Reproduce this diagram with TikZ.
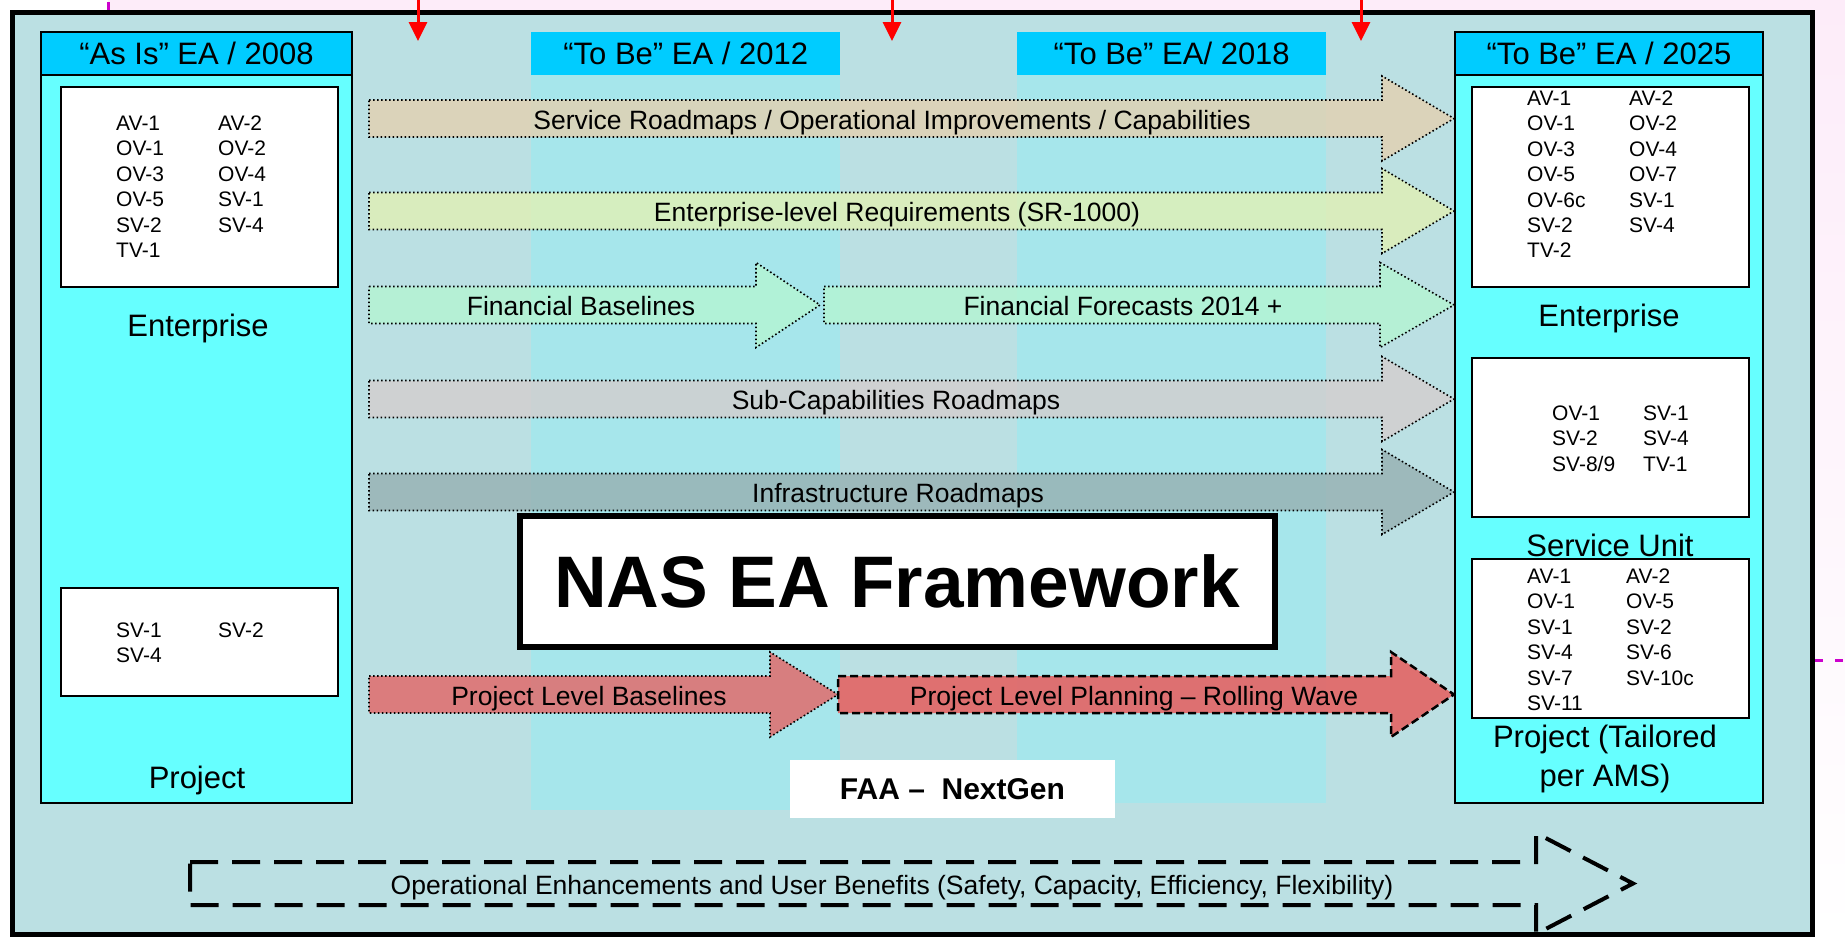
\documentclass[tikz,border=0pt]{standalone}
\usepackage{fontspec}
\setmainfont{Liberation Sans}
\usetikzlibrary{positioning, arrows.meta}

\definecolor{framebg}{RGB}{187,224,227}
\definecolor{eracol}{RGB}{166,230,235}
\definecolor{erahead}{RGB}{0,204,255}
\definecolor{panelfill}{RGB}{102,255,255}
\definecolor{pagepink}{RGB}{253,236,249}
\definecolor{mgnt}{RGB}{204,0,204}
\definecolor{svctan}{RGB}{228,208,176}
\definecolor{reqgreen}{RGB}{225,240,180}
\definecolor{finmint}{RGB}{180,245,210}
\definecolor{subgrey}{RGB}{212,206,206}
\definecolor{infragrey}{RGB}{150,176,177}
\definecolor{projred}{RGB}{228,100,100}

\newcommand{\roadarrow}[5][]{%
  \draw[#1] (#2,{#5-18.5}) -- (#3,{#5-18.5}) -- (#3,{#5-42.5}) -- (#4,#5)
    -- (#3,{#5+42.5}) -- (#3,{#5+18.5}) -- (#2,{#5+18.5}) -- cycle;}

\begin{document}
\begin{tikzpicture}[x=1pt, y=-1pt,
frame/.style={draw=black, line width=5pt},
panel-head/.style={rectangle, fill=erahead, draw=black, line width=2.5pt,
    font=\fontsize{31}{37}\selectfont, minimum width=311, minimum height=43,
    inner sep=0pt, outer sep=0pt, anchor=north west},
panel-body/.style={rectangle, fill=panelfill, draw=black, line width=2.5pt,
    minimum width=311, inner sep=0pt, outer sep=0pt},
era-head/.style={rectangle, fill=erahead, font=\fontsize{31}{37}\selectfont,
    minimum width=309, minimum height=43, inner sep=0pt, anchor=north west},
era-column/.style={rectangle, fill=eracol, minimum width=309, inner sep=0pt,
    anchor=north west},
view-box/.style={rectangle, fill=white, draw=black, line width=2pt,
    minimum width=277, inner sep=0pt, anchor=north west},
view-list/.style={font=\fontsize{21}{25.4}\selectfont, inner sep=0pt, anchor=base west},
level/.style={font=\fontsize{31}{39}\selectfont, inner sep=0pt, anchor=base, align=center},
road/.style={draw=black, line width=1.6pt, dash pattern=on 1.6pt off 2.4pt, fill opacity=0.8},
road-plan/.style={draw=black, line width=2.5pt, dash pattern=on 8pt off 4pt, fill opacity=0.9},
road-label/.style={font=\fontsize{26.5}{30}\selectfont, inner sep=0pt, anchor=base},
benefit/.style={draw=black, line width=4pt, dash pattern=on 28pt off 14pt},
title-box/.style={rectangle, fill=white, draw=black, line width=6pt,
    font=\fontsize{73}{80}\selectfont\bfseries, minimum width=755, minimum height=131, inner sep=0pt},
tag-box/.style={rectangle, fill=white, font=\fontsize{30}{36}\selectfont\bfseries,
    minimum width=325, minimum height=58, inner sep=0pt},
cut-mark/.style={red, line width=3pt, -{Triangle[length=19pt, width=18pt]}}
]
\useasboundingbox (0,0) rectangle (1845,937);
\fill[white] (0,0) rectangle (1845,937);
\fill[pagepink] (108,0) rectangle (1845,10);
\shade[top color=pagepink, bottom color=white] (1814,0) rectangle (1845,937);
\draw[mgnt, line width=3pt] (108,2) -- (108,10);
\draw[mgnt, line width=3pt, dash pattern=on 8pt off 12pt] (1815,660) -- (1845,660);
\fill[framebg] (12,12) rectangle (1812,934);

\node[era-column, minimum height=735] (col-2012) at (531,75) {};
\node[era-column, minimum height=728] (col-2018) at (1017,75) {};
\node[era-head] (head-2012) at (531,32) {“To Be” EA / 2012};
\node[era-head] (head-2018) at (1017,32) {“To Be” EA/ 2018};

\roadarrow[road, fill=svctan]{369}{1382}{1454}{118.5}
\roadarrow[road, fill=reqgreen]{369}{1382}{1454}{211}
\roadarrow[road, fill=finmint]{369}{756}{820}{305}
\roadarrow[road, fill=finmint]{824}{1380}{1454}{305}
\roadarrow[road, fill=subgrey]{369}{1382}{1454}{399}
\roadarrow[road, fill=infragrey]{369}{1382}{1454}{492}
\roadarrow[road, fill=projred]{369}{770}{838}{694.5}
\roadarrow[road-plan, fill=projred]{838}{1391}{1454}{694.5}

\node[road-label] (svc-label) at (892,129) {Service Roadmaps / Operational Improvements / Capabilities};
\node[road-label] (req-label) at (897,221.5) {Enterprise-level Requirements (SR-1000)};
\node[road-label] (fin-base-label) at (581,315.5) {Financial Baselines};
\node[road-label] (fin-fore-label) at (1123,315.5) {Financial Forecasts 2014 +};
\node[road-label] (sub-label) at (896,409.5) {Sub-Capabilities Roadmaps};
\node[road-label] (infra-label) at (898,502.5) {Infrastructure Roadmaps};
\node[road-label] (proj-base-label) at (589,705) {Project Level Baselines};
\node[road-label] (proj-plan-label) at (1134,705) {Project Level Planning – Rolling Wave};

\node[panel-head] (asis-head) at (41,32) {“As Is” EA / 2008};
\node[panel-body, minimum height=728, below=0pt of asis-head] (asis-body) {};
\node[view-box, minimum height=200] (asis-ent) at (60,86) {};
\node[view-list] (asis-ent-list) at (116,130.5) {\begin{tabular}[t]{@{}p{102pt}@{}l@{}}
  AV-1 & AV-2\\ OV-1 & OV-2\\ OV-3 & OV-4\\ OV-5 & SV-1\\ SV-2 & SV-4\\ TV-1 & \end{tabular}};
\node[level] (asis-ent-label) at (198,336) {Enterprise};
\node[view-box, minimum height=108] (asis-proj) at (60,587) {};
\node[view-list] (asis-proj-list) at (116,637.5) {\begin{tabular}[t]{@{}p{102pt}@{}l@{}}
  SV-1 & SV-2\\ SV-4 & \end{tabular}};
\node[level] (asis-proj-label) at (197,788) {Project};

\node[panel-head, minimum width=308] (tobe-head) at (1455,32) {“To Be” EA / 2025};
\node[panel-body, minimum width=308, minimum height=728, below=0pt of tobe-head] (tobe-body) {};
\node[view-box, minimum height=200] (tobe-ent) at (1471,86) {};
\node[view-list] (tobe-ent-list) at (1527,105.5) {\begin{tabular}[t]{@{}p{102pt}@{}l@{}}
  AV-1 & AV-2\\ OV-1 & OV-2\\ OV-3 & OV-4\\ OV-5 & OV-7\\ OV-6c & SV-1\\ SV-2 & SV-4\\ TV-2 & \end{tabular}};
\node[level] (tobe-ent-label) at (1609,326) {Enterprise};
\node[view-box, minimum height=159] (tobe-svc) at (1471,357) {};
\node[view-list] (tobe-svc-list) at (1552,420.5) {\begin{tabular}[t]{@{}p{91pt}@{}l@{}}
  OV-1 & SV-1\\ SV-2 & SV-4\\ SV-8/9 & TV-1 \end{tabular}};
\node[level] (tobe-svc-label) at (1610,556) {Service Unit};
\node[view-box, minimum height=159] (tobe-proj) at (1471,558) {};
\node[view-list] (tobe-proj-list) at (1527,583.5) {\begin{tabular}[t]{@{}p{99pt}@{}l@{}}
  AV-1 & AV-2\\ OV-1 & OV-5\\ SV-1 & SV-2\\ SV-4 & SV-6\\ SV-7 & SV-10c\\ SV-11 & \end{tabular}};
\node[level, anchor=center] (tobe-proj-label) at (1605,759) {Project (Tailored\\per AMS)};

\node[title-box] (nas) at (897,581) {NAS EA Framework};
\node[tag-box] (faa) at (952.5,789) {FAA –~ NextGen};

\draw[benefit] (190,862) -- (1536,862) -- (1536,833) -- (1633,883.5) -- (1536,934)
  -- (1536,905) -- (190,905) -- cycle;
\node[road-label] (benefit-label) at (892,894) {Operational Enhancements and User Benefits (Safety, Capacity, Efficiency, Flexibility)};

\draw[frame] (12,12) rectangle (1812,934);
\foreach \x [count=\i] in {418,892,1361} {
  \coordinate (cut-\i-top) at (\x,0);
  \coordinate (cut-\i-tip) at (\x,41);
  \draw[cut-mark] (cut-\i-top) -- (cut-\i-tip);
}
\end{tikzpicture}
\end{document}
